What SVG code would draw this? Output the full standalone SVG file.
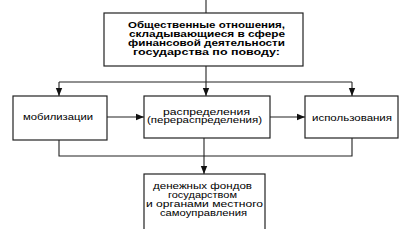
<svg xmlns="http://www.w3.org/2000/svg" width="406" height="229" viewBox="0 0 406 229">
<defs>
<marker id="ah" viewBox="0 0 10 10" refX="10" refY="5" markerWidth="8" markerHeight="8" markerUnits="userSpaceOnUse" orient="auto">
<path d="M0,1 L10,5 L0,9 Z" fill="#111"/>
</marker>
</defs>
<style>
.box{fill:#fff;stroke:#222;stroke-width:1.2}
.ln{fill:none;stroke:#222;stroke-width:1.1}
.t{font-family:"Liberation Sans",Arial,sans-serif;font-size:9px;fill:#000;text-anchor:middle}
.b{font-weight:bold}
</style>
<rect width="406" height="229" fill="#fff"/>
<g id="connectors">
<path class="ln" d="M206,0 V13"/>
<path class="ln" d="M206,66 V96" marker-end="url(#ah)"/>
<path class="ln" d="M59,82 H352"/>
<path class="ln" d="M59,82 V96" marker-end="url(#ah)"/>
<path class="ln" d="M352,82 V96" marker-end="url(#ah)"/>
<path class="ln" d="M107,117 H144" marker-end="url(#ah)"/>
<path class="ln" d="M270,117 H305" marker-end="url(#ah)"/>
<path class="ln" d="M59,140 V156 H352 V138"/>
<path class="ln" d="M204,138 V174" marker-end="url(#ah)"/>
</g>
<g id="top">
<rect class="box" x="104" y="13" width="199" height="53"/>
<text class="t b" x="206.5" y="28" textLength="157" lengthAdjust="spacingAndGlyphs">Общественные отношения,</text>
<text class="t b" x="207" y="37" textLength="156" lengthAdjust="spacingAndGlyphs">складывающиеся в сфере</text>
<text class="t b" x="206.5" y="46" textLength="157" lengthAdjust="spacingAndGlyphs">финансовой деятельности</text>
<text class="t b" x="206.5" y="55" textLength="147" lengthAdjust="spacingAndGlyphs">государства по поводу:</text>
</g>
<g id="mob">
<rect class="box" x="13" y="96" width="94" height="44"/>
<text class="t" x="58" y="120" textLength="70" lengthAdjust="spacingAndGlyphs">мобилизации</text>
</g>
<g id="rasp">
<rect class="box" x="144" y="96" width="126" height="42"/>
<text class="t" x="206.5" y="114.5" textLength="87" lengthAdjust="spacingAndGlyphs">распределения</text>
<text class="t" x="204.5" y="123" textLength="115" lengthAdjust="spacingAndGlyphs">(перераспределения)</text>
</g>
<g id="isp">
<rect class="box" x="305" y="96" width="93" height="42"/>
<text class="t" x="352" y="120.5" textLength="80" lengthAdjust="spacingAndGlyphs">использования</text>
</g>
<g id="fund">
<rect class="box" x="144" y="174" width="121" height="70"/>
<text class="t" x="202.5" y="189" textLength="99" lengthAdjust="spacingAndGlyphs">денежных фондов</text>
<text class="t" x="202.5" y="198" textLength="69" lengthAdjust="spacingAndGlyphs">государством</text>
<text class="t" x="204.5" y="207" textLength="117" lengthAdjust="spacingAndGlyphs">и органами местного</text>
<text class="t" x="203.5" y="216" textLength="87" lengthAdjust="spacingAndGlyphs">самоуправления</text>
</g>
</svg>
